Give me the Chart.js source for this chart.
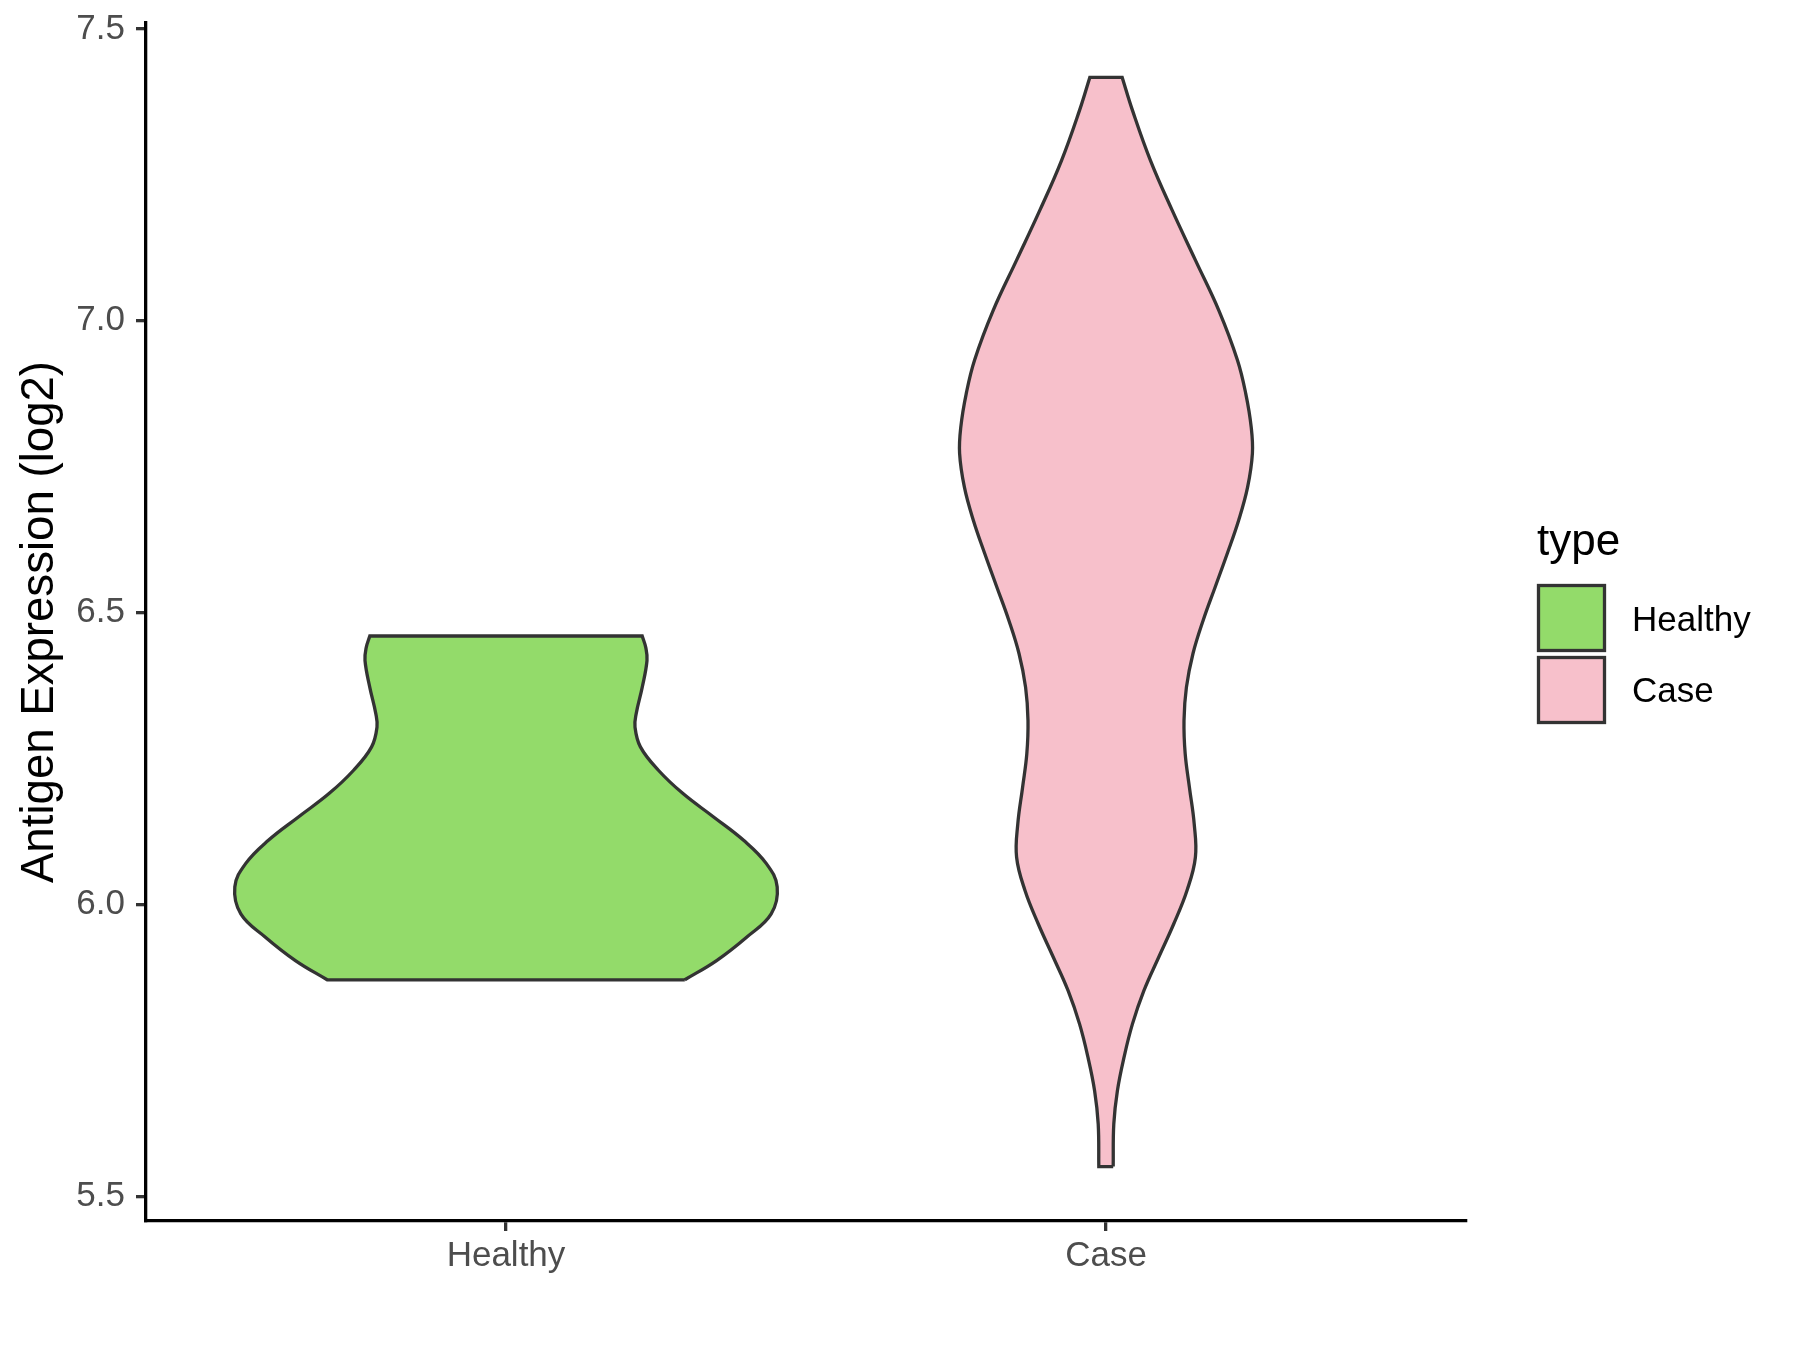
<!DOCTYPE html>
<html><head><meta charset="utf-8">
<script src="https://cdn.jsdelivr.net/npm/chart.js@4.4.1/dist/chart.umd.min.js"></script>
<style>html,body{margin:0;padding:0;background:#fff}#wrap{width:1800px;height:1350px;position:relative}</style>
</head><body><div id="wrap"><canvas id="c" width="1800" height="1350"></canvas></div>
<script>
// ---- data ----
const categories = ['Healthy', 'Case'];
const legendTitle = 'type';
const yAxisTitle = 'Antigen Expression (log2)';
const yTickValues = [5.5, 6.0, 6.5, 7.0, 7.5];

// violin outline: expression level (log2) and half width (in category units)
const healthyLevels = [5.871, 5.904, 5.944, 5.984, 6.030, 6.070, 6.110, 6.150, 6.190, 6.230, 6.270, 6.304, 6.327, 6.372, 6.418, 6.440, 6.460];
const healthyHalfWidths = [0.298, 0.351, 0.401, 0.442, 0.452, 0.434, 0.396, 0.346, 0.295, 0.254, 0.224, 0.215, 0.217, 0.227, 0.235, 0.233, 0.227];

const caseLevels = [5.551, 5.624, 5.681, 5.738, 5.795, 5.852, 5.910, 5.967, 6.024, 6.081, 6.138, 6.201, 6.258, 6.315, 6.372, 6.430, 6.487, 6.544, 6.601, 6.658, 6.715, 6.773, 6.818, 6.875, 6.933, 7.018, 7.104, 7.190, 7.275, 7.361, 7.417];
const caseHalfWidths = [0.012, 0.013, 0.019, 0.030, 0.044, 0.063, 0.088, 0.113, 0.135, 0.149, 0.147, 0.139, 0.132, 0.130, 0.134, 0.145, 0.162, 0.182, 0.202, 0.221, 0.236, 0.244, 0.242, 0.233, 0.219, 0.188, 0.149, 0.110, 0.074, 0.044, 0.027];

// ---- styling ----
const FONT = '"Liberation Sans", Arial, Helvetica, sans-serif';
const fillColors = ['#93DB6A', '#F7C0CB'];
const outlineColor = '#333333';

const allLevels = healthyLevels.concat(caseLevels);
const dMin = Math.min(...allLevels), dMax = Math.max(...allLevels);
const yMin = dMin - 0.05 * (dMax - dMin);
const yMax = dMax + 0.05 * (dMax - dMin);

// closed outline: right side upward, flat top, left side downward, flat bottom.
// Corner points are repeated so the spline keeps the flat ends straight.
function outline(center, levels, hw) {
  const right = levels.map((y, i) => ({x: center + hw[i], y}));
  const left = levels.map((y, i) => ({x: center - hw[i], y})).reverse();
  const n = right.length;
  return [].concat(
    right, [right[n - 1]],
    [left[0]], left, [left[n - 1]],
    [right[0]]
  );
}

const series = [
  {levels: healthyLevels, hw: healthyHalfWidths},
  {levels: caseLevels, hw: caseHalfWidths}
];

const datasets = series.map((s, i) => ({
  label: categories[i],
  data: outline(i + 1, s.levels, s.hw),
  showLine: true,
  tension: 0.4,
  fill: 'shape',
  backgroundColor: fillColors[i],
  borderColor: outlineColor,
  borderWidth: 3.3,
  borderJoinStyle: 'miter',
  pointRadius: 0,
  pointHoverRadius: 0
}));

const legendPlugin = {
  id: 'violinLegend',
  afterDraw(chart) {
    const ctx = chart.ctx;
    ctx.save();
    ctx.textBaseline = 'alphabetic';
    ctx.textAlign = 'left';
    ctx.fillStyle = '#000';
    ctx.font = '44px ' + FONT;
    ctx.fillText(legendTitle, 1537, 555);
    categories.forEach((c, i) => {
      const y0 = 585.5 + i * 72;
      ctx.fillStyle = fillColors[i];
      ctx.fillRect(1538.5, y0, 66, 65);
      ctx.lineWidth = 3.3;
      ctx.strokeStyle = outlineColor;
      ctx.strokeRect(1538.5, y0, 66, 65);
      ctx.fillStyle = '#000';
      ctx.font = '35px ' + FONT;
      ctx.fillText(c, 1632, 630.7 + i * 71.5);
    });
    ctx.restore();
  }
};

const axisCommon = {
  grid: {drawOnChartArea: false, drawTicks: true, tickLength: 10, tickColor: '#333333', tickWidth: 3.3, color: '#333333', lineWidth: 3.3},
  border: {display: true, color: '#000000', width: 3.3}
};

function zeroPadding(s) { s.paddingTop = 0; s.paddingBottom = 0; s.paddingLeft = 0; s.paddingRight = 0; }

new Chart(document.getElementById('c'), {
  type: 'scatter',
  data: {datasets},
  options: {
    responsive: false,
    animation: false,
    devicePixelRatio: 1,
    layout: {padding: {left: 0, top: 23, right: 334, bottom: 0}},
    plugins: {legend: {display: false}, tooltip: {enabled: false}},
    scales: {
      x: {
        type: 'linear', min: 0.4, max: 2.6,
        afterBuildTicks: s => { s.ticks = categories.map((c, i) => ({value: i + 1})); },
        afterFit: s => { s.height = 129; zeroPadding(s); },
        ticks: {
          callback: v => categories[Math.round(v) - 1] ?? '',
          font: {family: FONT, size: 35}, color: '#4D4D4D', padding: 4,
          maxRotation: 0, autoSkip: false
        },
        ...axisCommon
      },
      y: {
        type: 'linear', min: yMin, max: yMax,
        afterBuildTicks: s => { s.ticks = yTickValues.map(v => ({value: v})); },
        afterFit: s => { s.width = 146; zeroPadding(s); },
        ticks: {
          callback: v => Number(v).toFixed(1),
          font: {family: FONT, size: 35}, color: '#4D4D4D', padding: 11, autoSkip: false
        },
        title: {display: true, text: yAxisTitle, color: '#000', font: {family: FONT, size: 45.6}, padding: {top: 13, bottom: 0}},
        ...axisCommon
      }
    }
  },
  plugins: [legendPlugin]
});
</script></body></html>
